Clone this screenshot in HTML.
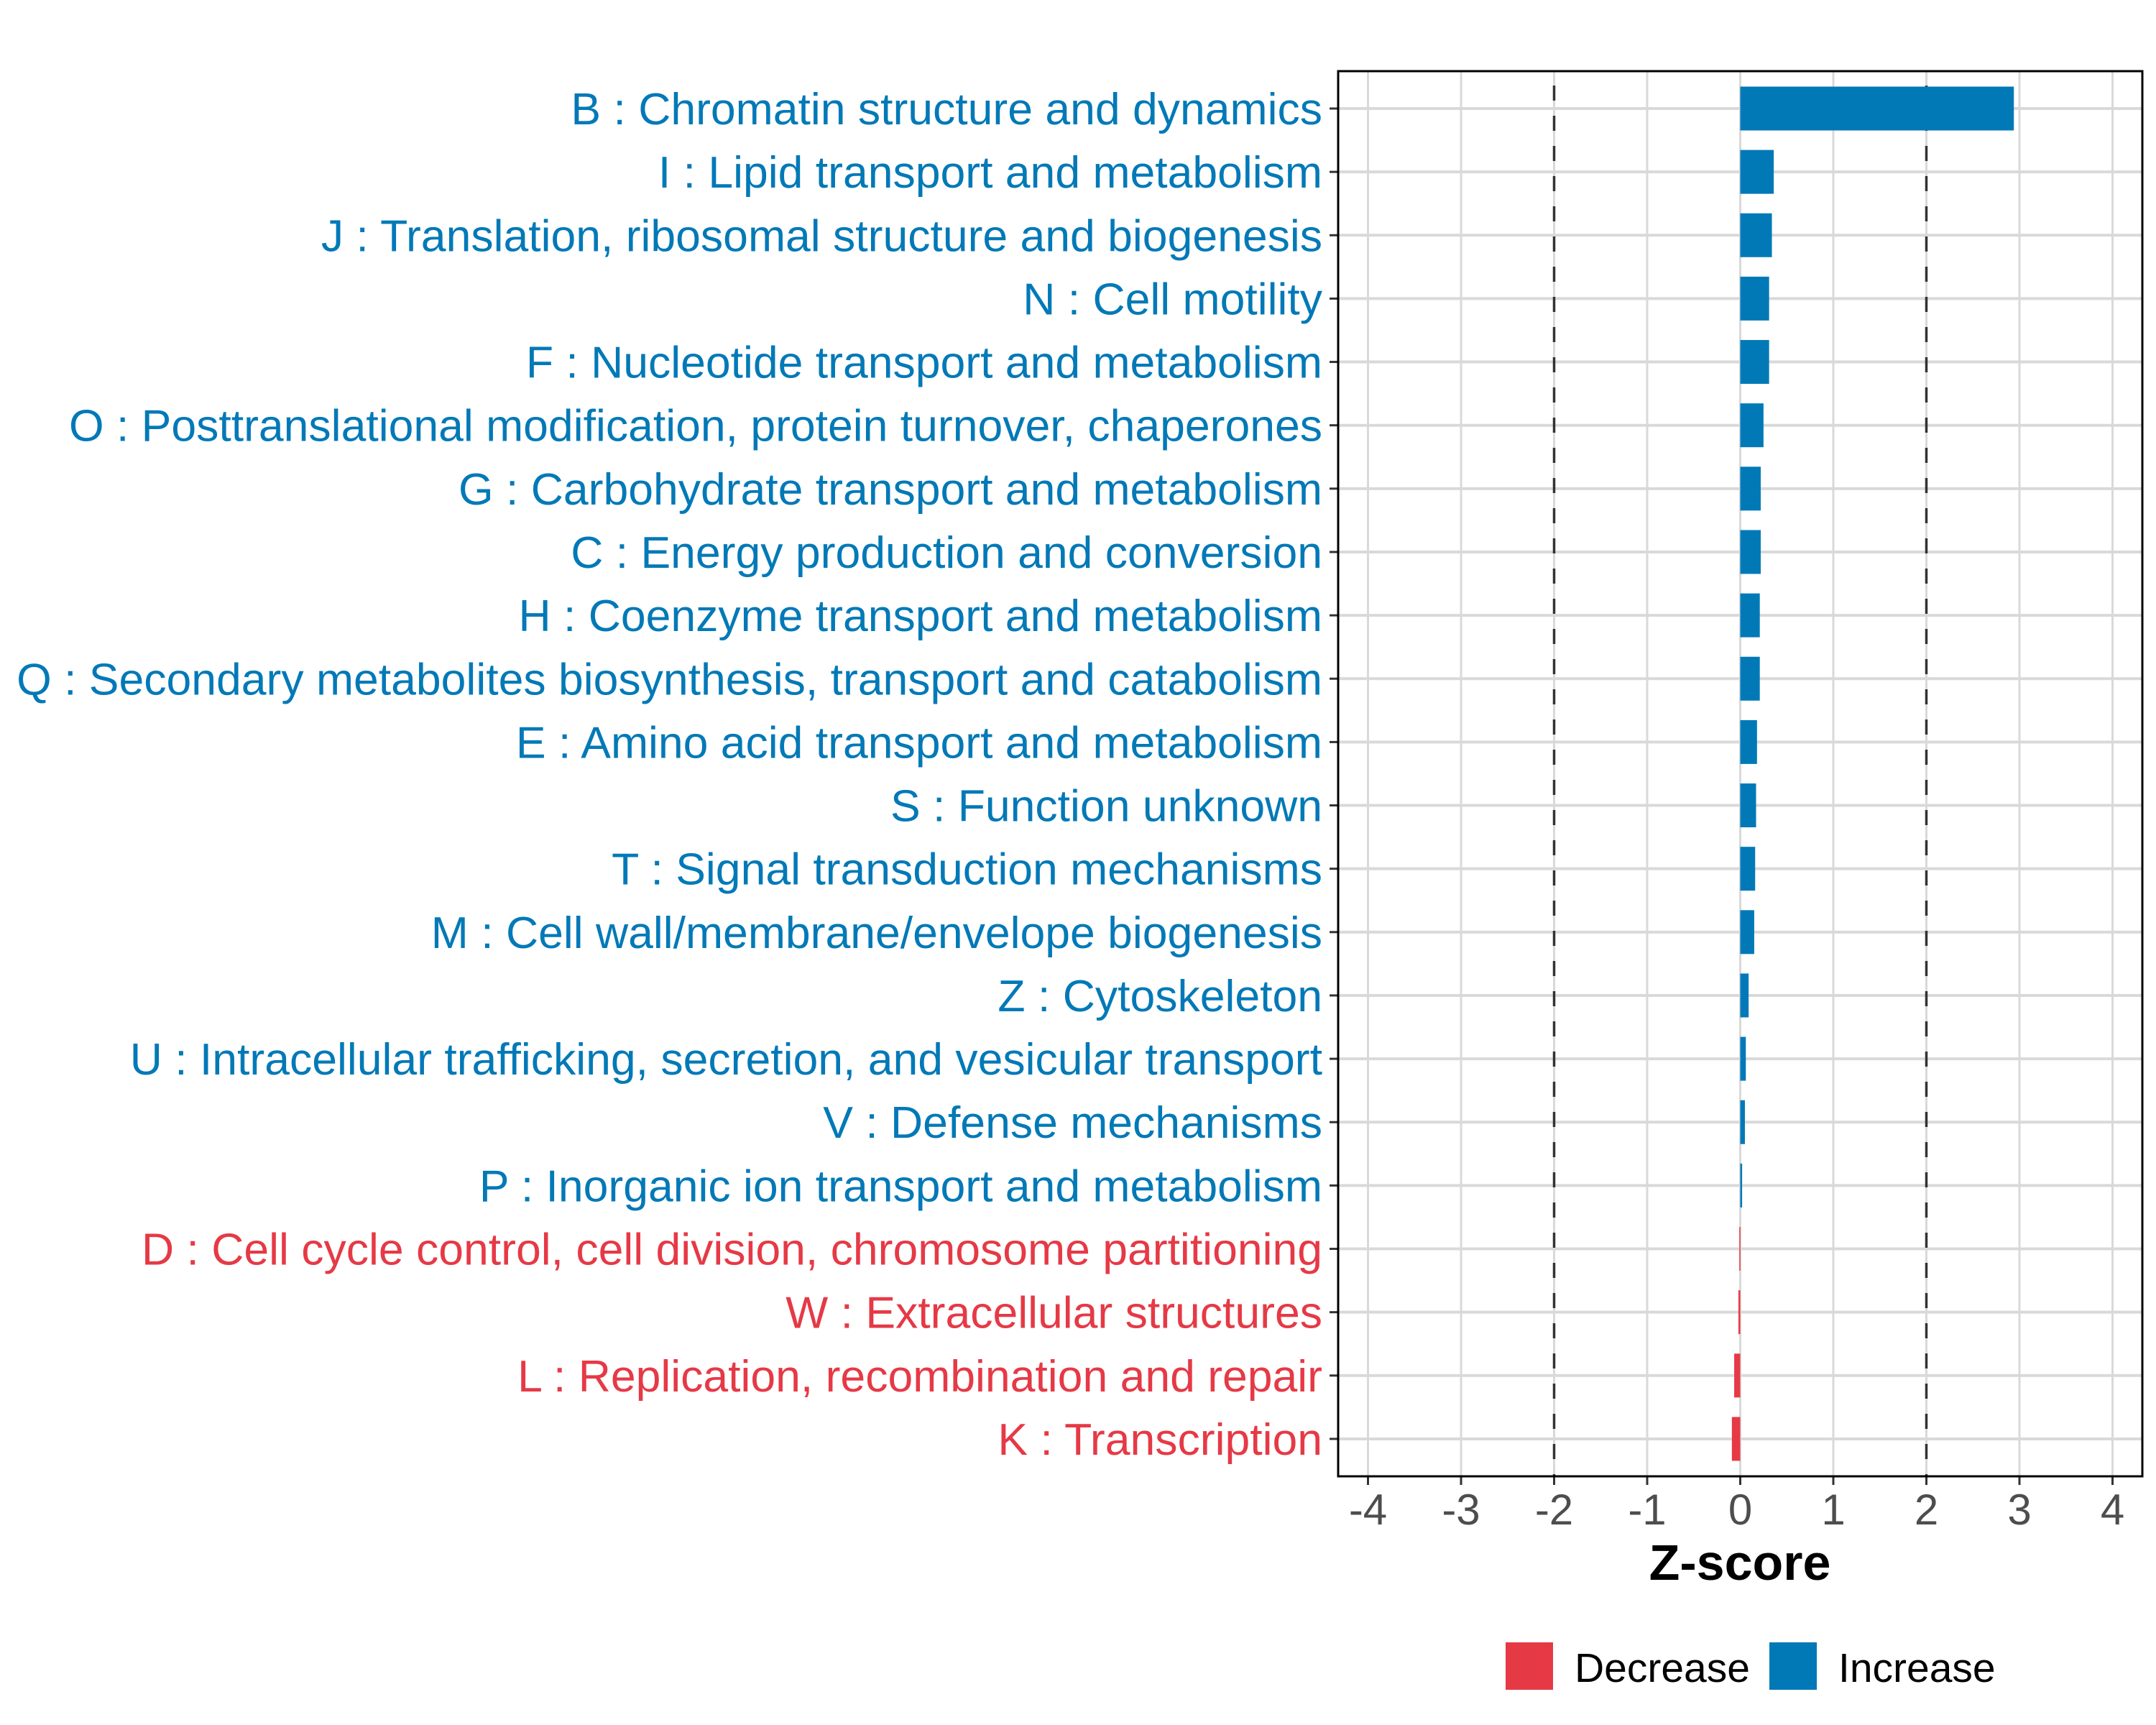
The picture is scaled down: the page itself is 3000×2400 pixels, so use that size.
<!DOCTYPE html>
<html><head><meta charset="utf-8"><style>
html,body{margin:0;padding:0;background:#fff;}
svg{display:block;font-family:"Liberation Sans",Arial,sans-serif;}
</style></head><body>
<svg id="chart" width="3000" height="2400" viewBox="0 0 3000 2400" xmlns="http://www.w3.org/2000/svg">
<g id="grid"></g>
<g id="bars"></g>
<g id="ylabels"></g>
<g id="xaxis"></g>
<text x="2421" y="2198" font-size="70" font-weight="bold" text-anchor="middle" fill="#000">Z-score</text>
<g>
  <rect x="2095" y="2285" width="66" height="66" fill="#E63946"/>
  <text x="2191" y="2340" font-size="57" fill="#000">Decrease</text>
  <rect x="2462" y="2285" width="66" height="66" fill="#0279B7"/>
  <text x="2558" y="2340" font-size="57" fill="#000">Increase</text>
</g>
</svg>
<script>
const categories = [
"B : Chromatin structure and dynamics",
"I : Lipid transport and metabolism",
"J : Translation, ribosomal structure and biogenesis",
"N : Cell motility",
"F : Nucleotide transport and metabolism",
"O : Posttranslational modification, protein turnover, chaperones",
"G : Carbohydrate transport and metabolism",
"C : Energy production and conversion",
"H : Coenzyme transport and metabolism",
"Q : Secondary metabolites biosynthesis, transport and catabolism",
"E : Amino acid transport and metabolism",
"S : Function unknown",
"T : Signal transduction mechanisms",
"M : Cell wall/membrane/envelope biogenesis",
"Z : Cytoskeleton",
"U : Intracellular trafficking, secretion, and vesicular transport",
"V : Defense mechanisms",
"P : Inorganic ion transport and metabolism",
"D : Cell cycle control, cell division, chromosome partitioning",
"W : Extracellular structures",
"L : Replication, recombination and repair",
"K : Transcription"];
const zscores = [2.94,0.36,0.34,0.31,0.31,0.25,0.22,0.22,0.21,0.21,0.18,0.17,0.16,0.15,0.09,0.06,0.05,0.02,-0.01,-0.02,-0.065,-0.09];
const xTicks = [-4,-3,-2,-1,0,1,2,3,4];
const thresholds = [-2,2];

const NS="http://www.w3.org/2000/svg";
const PL=1862, PR=2981, PT=99, PB=2054;
const X0=2421.5, XU=129.5;
const xs=v=>X0+v*XU;
const YB=151, YS=88.14;
const ys=i=>YB+i*YS;
const BLUE="#0279B7", RED="#E63946";
function mk(tag,attrs,parent){const e=document.createElementNS(NS,tag);for(const k in attrs)e.setAttribute(k,attrs[k]);parent.appendChild(e);return e;}
const grid=document.getElementById('grid'), bars=document.getElementById('bars'), yl=document.getElementById('ylabels'), xa=document.getElementById('xaxis');
xTicks.forEach(t=>{
  const l=mk('line',{x1:xs(t),x2:xs(t),y1:PT,y2:PB,stroke:'#d9d9d9','stroke-width':3},grid);
  
  
  const tk=mk('line',{x1:xs(t),x2:xs(t),y1:PB,y2:PB+12,stroke:'#333','stroke-width':3},xa);
  
  
  const tx=mk('text',{x:xs(t),y:2121,'font-size':60,'text-anchor':'middle',fill:'#4d4d4d'},xa);
  tx.textContent=String(t);
  
  
});
categories.forEach((c,i)=>{
  const l=mk('line',{x1:PL,x2:PR,y1:ys(i),y2:ys(i),stroke:'#d9d9d9','stroke-width':4},grid);
  
  
});
thresholds.forEach(t=>{
  const l=mk('line',{x1:xs(t),x2:xs(t),y1:PT,y2:PB,stroke:'#333','stroke-width':3.5,'stroke-dasharray':'21 21','stroke-dashoffset':'-20'},grid);
  
  
});
const BH=61;
categories.forEach((c,i)=>{
  const v=zscores[i], col=v>=0?BLUE:RED;
  const x1=Math.min(xs(0),xs(v)), w=Math.max(Math.abs(xs(v)-xs(0)),1.5);
  const r=mk('rect',{x:x1,y:ys(i)-BH/2,width:w,height:BH,fill:col},bars);
  
  
  const tk=mk('line',{x1:PL-12,x2:PL,y1:ys(i),y2:ys(i),stroke:'#333','stroke-width':3},yl);
  
  
  const t=mk('text',{x:1840,y:ys(i)+22,'font-size':62.5,'text-anchor':'end',fill:col},yl);
  t.textContent=c;
  
  
});
const border=mk('rect',{x:PL,y:PT,width:PR-PL,height:PB-PT,fill:'none',stroke:'#000','stroke-width':3},document.getElementById('chart'));


</script>
</body></html>
